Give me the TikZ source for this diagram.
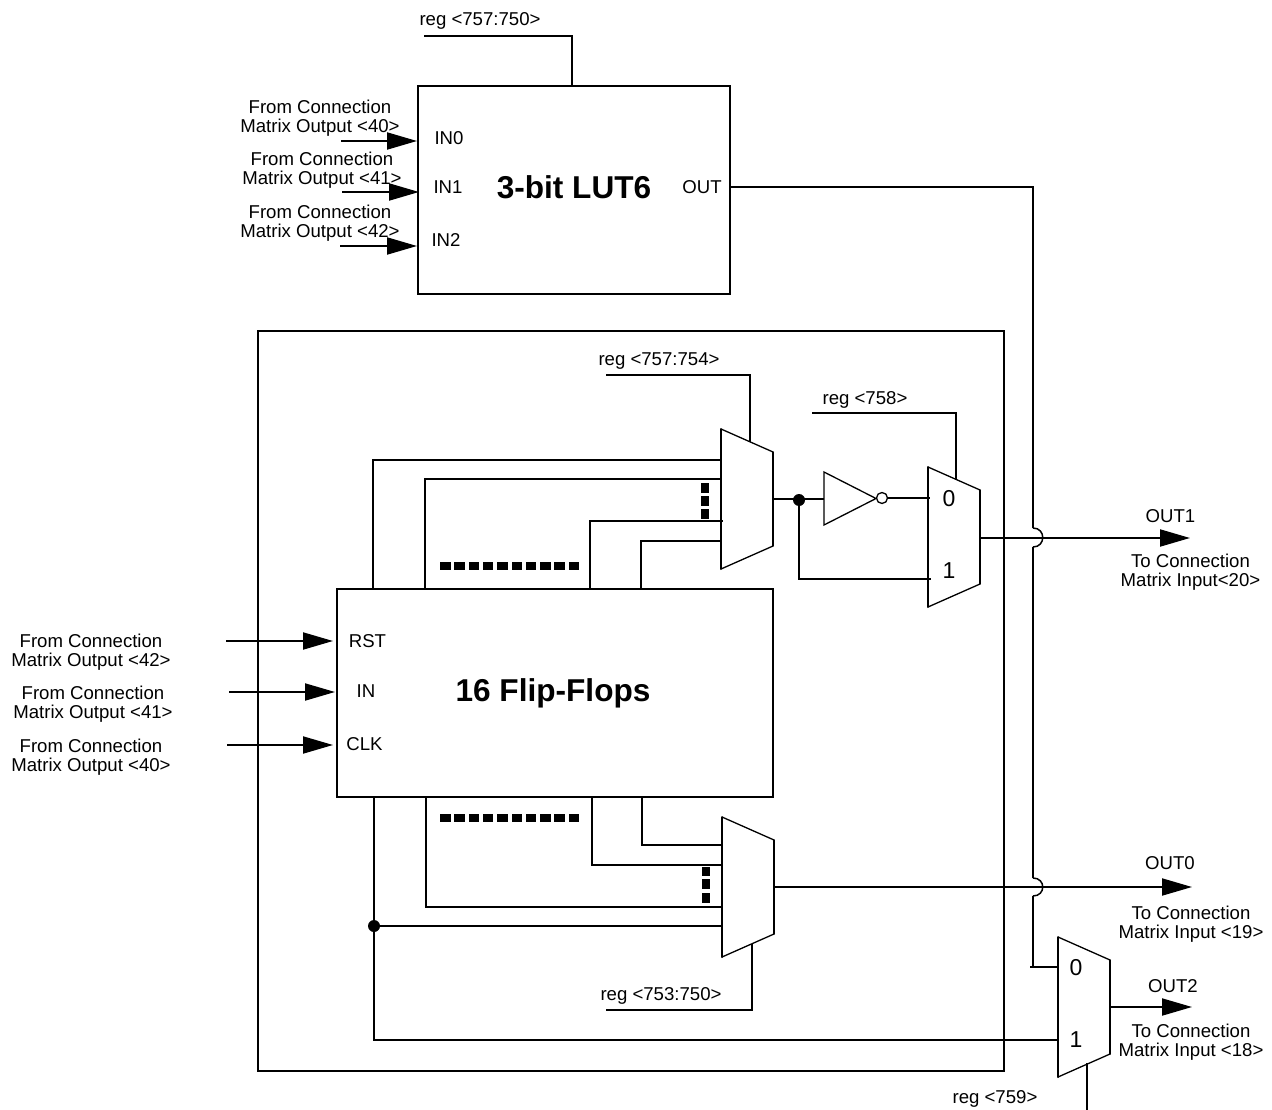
\documentclass[tikz,border=0pt]{standalone}
\usepackage{fontspec}
\setmainfont{Liberation Sans}
\usetikzlibrary{arrows.meta}
\tikzset{
  x=1pt,y=-1pt,
  wire/.style={line width=2pt,line join=miter},
  thinedge/.style={line width=1.3pt},
  hopwire/.style={line width=2pt},
  bigarrow/.style={line width=2pt,-{Triangle[length=30pt,width=17pt]}},
  block/.style={draw,line width=2pt,inner sep=0pt,outer sep=0pt},
  lbl/.style={font=\fontsize{18.6}{18.5}\selectfont,inner sep=0pt,align=center},
  muxbit/.style={font=\fontsize{23}{23}\selectfont,inner sep=0pt},
  title/.style={font=\fontsize{31.6}{32}\selectfont\bfseries,inner sep=0pt},
  junction/.style={circle,fill=black,inner sep=0pt,minimum size=12pt},
  bubble/.style={circle,draw,fill=white,line width=1.3pt,inner sep=0pt,minimum size=11pt},
  dotmark/.style={fill=black,draw=none},
}
\newcommand{\muxshape}[5]{%
  \coordinate (#1tl) at (#2,#4);
  \coordinate (#1tr) at (#3,#4+23);
  \coordinate (#1br) at (#3,#5-23);
  \coordinate (#1bl) at (#2,#5);
  \draw[thinedge] (#1tl) -- (#1tr);
  \draw[thinedge] (#1bl) -- (#1br);
  \draw[wire,line cap=round] (#1tl) -- (#1bl);
  \draw[wire,line cap=round] (#1tr) -- (#1br);
}
\begin{document}
\begin{tikzpicture}
\useasboundingbox (0,0) rectangle (1272,1110);

% blocks
\node[block,minimum width=312pt,minimum height=208pt] (lut) at (574,190) {};
\node[block,minimum width=746pt,minimum height=740pt] (outer) at (631,701) {};
\node[block,minimum width=436pt,minimum height=208pt] (ff) at (555,693) {};

\node[title] (luttitle) at (574,187) {3-bit LUT6};
\node[title] (fftitle) at (553,693) {16 Flip-Flops};

% multiplexers
\muxshape{ma}{721}{773}{429}{569}
\muxshape{mb}{928}{980}{467}{607}
\muxshape{mc}{722}{774}{817}{957}
\muxshape{md}{1058}{1110}{937}{1077}
\node[muxbit] (mb0) at (949,499) {0};
\node[muxbit] (mb1) at (949,571) {1};
\node[muxbit] (md0) at (1076,968) {0};
\node[muxbit] (md1) at (1076,1040) {1};

% inverter
\coordinate (inva) at (824,472);
\coordinate (invb) at (876,498.5);
\coordinate (invc) at (824,525);
\draw[thinedge] (inva) -- (invb) -- (invc) -- cycle;
\node[bubble] (bub) at (882,498) {};
\node[junction] (j1) at (799,500) {};
\node[junction] (j2) at (374,926) {};

% reg control lines
\coordinate (r1a) at (424,36); \coordinate (r1b) at (572,36); \coordinate (r1c) at (572,86);
\draw[wire] (r1a) -- (r1b) -- (r1c);
\coordinate (r2a) at (606,375); \coordinate (r2b) at (750,375); \coordinate (r2c) at (750,442);
\draw[wire] (r2a) -- (r2b) -- (r2c);
\coordinate (r3a) at (812,413); \coordinate (r3b) at (956,413); \coordinate (r3c) at (956,480);
\draw[wire] (r3a) -- (r3b) -- (r3c);
\coordinate (r4a) at (606,1010); \coordinate (r4b) at (752,1010); \coordinate (r4c) at (752,944);
\draw[wire] (r4a) -- (r4b) -- (r4c);
\coordinate (r5a) at (1087,1063); \coordinate (r5b) at (1087,1110);
\draw[wire] (r5a) -- (r5b);

% top mux inputs
\coordinate (t1a) at (373,589); \coordinate (t1b) at (373,460); \coordinate (t1c) at (721,460);
\draw[wire] (t1a) -- (t1b) -- (t1c);
\coordinate (t2a) at (425,589); \coordinate (t2b) at (425,479); \coordinate (t2c) at (721,479);
\draw[wire] (t2a) -- (t2b) -- (t2c);
\coordinate (t3a) at (590,589); \coordinate (t3b) at (590,521); \coordinate (t3c) at (723,521);
\draw[wire] (t3a) -- (t3b) -- (t3c);
\coordinate (t4a) at (641,589); \coordinate (t4b) at (641,541); \coordinate (t4c) at (721,541);
\draw[wire] (t4a) -- (t4b) -- (t4c);

% bottom mux inputs
\coordinate (b1a) at (642,797); \coordinate (b1b) at (642,845); \coordinate (b1c) at (722,845);
\draw[wire] (b1a) -- (b1b) -- (b1c);
\coordinate (b2a) at (592,797); \coordinate (b2b) at (592,865); \coordinate (b2c) at (722,865);
\draw[wire] (b2a) -- (b2b) -- (b2c);
\coordinate (b3a) at (426,797); \coordinate (b3b) at (426,907); \coordinate (b3c) at (723,907);
\draw[wire] (b3a) -- (b3b) -- (b3c);
\coordinate (b4a) at (374,797); \coordinate (b4b) at (374,1040); \coordinate (b4c) at (1058,1040);
\draw[wire] (b4a) -- (b4b) -- (b4c);
\coordinate (b5) at (723,926);
\draw[wire] (j2) -- (b5);

% inverter chain
\coordinate (mao) at (773,499);
\draw[wire] (mao) -- (inva |- mao);
\coordinate (bubo) at (888,498); \coordinate (mbi0) at (930,498);
\draw[wire] (bubo) -- (mbi0);
\coordinate (fb1) at (799,579); \coordinate (mbi1) at (931,579);
\draw[wire] (j1) -- (fb1) -- (mbi1);

% LUT output with hops
\coordinate (o1) at (730,187); \coordinate (o2) at (1033,187);
\coordinate (h1a) at (1033,528); \coordinate (h1b) at (1033,547);
\coordinate (h2a) at (1033,878); \coordinate (h2b) at (1033,896);
\coordinate (o3) at (1033,967); \coordinate (o4) at (1058,967);
\draw[hopwire] (o1) -- (o2) -- (h1a);
\draw[line width=1.5pt] (h1a) .. controls (1046,528) and (1046,547) .. (h1b);
\draw[hopwire] (h1b) -- (h2a);
\draw[line width=1.5pt] (h2a) .. controls (1046,878) and (1046,896) .. (h2b);
\draw[hopwire] (h2b) -- (o3);
\coordinate (o3l) at (1030,967);
\draw[hopwire] (o3l) -- (o4);

% outputs
\coordinate (q1a) at (980,538); \coordinate (q1b) at (1190,538);
\draw[bigarrow] (q1a) -- (q1b);
\coordinate (q0a) at (774,887); \coordinate (q0b) at (1192,887);
\draw[bigarrow] (q0a) -- (q0b);
\coordinate (q2a) at (1110,1007); \coordinate (q2b) at (1192,1007);
\draw[bigarrow] (q2a) -- (q2b);

% inputs to LUT
\coordinate (li0) at (341,141); \coordinate (li0e) at (417,141);
\draw[bigarrow] (li0) -- (li0e);
\coordinate (li1) at (342,192); \coordinate (li1e) at (419,192);
\draw[bigarrow] (li1) -- (li1e);
\coordinate (li2) at (340,246); \coordinate (li2e) at (417,246);
\draw[bigarrow] (li2) -- (li2e);

% inputs to FF
\coordinate (fi0) at (226,641); \coordinate (fi0e) at (333,641);
\draw[bigarrow] (fi0) -- (fi0e);
\coordinate (fi1) at (229,692); \coordinate (fi1e) at (335,692);
\draw[bigarrow] (fi1) -- (fi1e);
\coordinate (fi2) at (227,745); \coordinate (fi2e) at (333,745);
\draw[bigarrow] (fi2) -- (fi2e);

% ellipsis marks
\foreach \i in {0,...,9} {
  \fill[dotmark] (440+\i*14.3,561.5) rectangle (450.5+\i*14.3,569.5);
  \fill[dotmark] (440+\i*14.3,814) rectangle (450.5+\i*14.3,822);
}
\foreach \a/\b in {483/492.5,496/506,509/519} \fill[dotmark] (701,\a) rectangle (709,\b);
\foreach \a/\b in {867/876,879/889,893/903} \fill[dotmark] (702,\a) rectangle (710,\b);

% labels
\node[lbl] (l1) at (480,21) {reg <757:750>};
\node[lbl] (l2) at (320,118) {From Connection\\Matrix Output <40>};
\node[lbl] (l3) at (322,170) {From Connection\\Matrix Output <41>};
\node[lbl] (l4) at (320,223) {From Connection\\Matrix Output <42>};
\node[lbl] (l5) at (449,138) {IN0};
\node[lbl] (l6) at (448,187) {IN1};
\node[lbl] (l7) at (446,240.5) {IN2};
\node[lbl] (l8) at (702,187) {OUT};
\node[lbl] (l9) at (659,361) {reg <757:754>};
\node[lbl] (l10) at (865,400) {reg <758>};
\node[lbl] (l11) at (91,652) {From Connection\\Matrix Output <42>};
\node[lbl] (l12) at (93,704) {From Connection\\Matrix Output <41>};
\node[lbl] (l13) at (91,757) {From Connection\\Matrix Output <40>};
\node[lbl] (l14) at (367.5,641) {RST};
\node[lbl] (l15) at (366,691) {IN};
\node[lbl] (l16) at (364.5,744) {CLK};
\node[lbl] (l17) at (661,996) {reg <753:750>};
\node[lbl] (l18) at (995,1099) {reg <759>};
\node[lbl] (l19) at (1170.5,516) {OUT1};
\node[lbl] (l20) at (1190.5,572) {To Connection\\Matrix Input<20>};
\node[lbl] (l21) at (1170,863) {OUT0};
\node[lbl] (l22) at (1191,924) {To Connection\\Matrix Input <19>};
\node[lbl] (l23) at (1173,986) {OUT2};
\node[lbl] (l24) at (1191,1042) {To Connection\\Matrix Input <18>};
\end{tikzpicture}
\end{document}
